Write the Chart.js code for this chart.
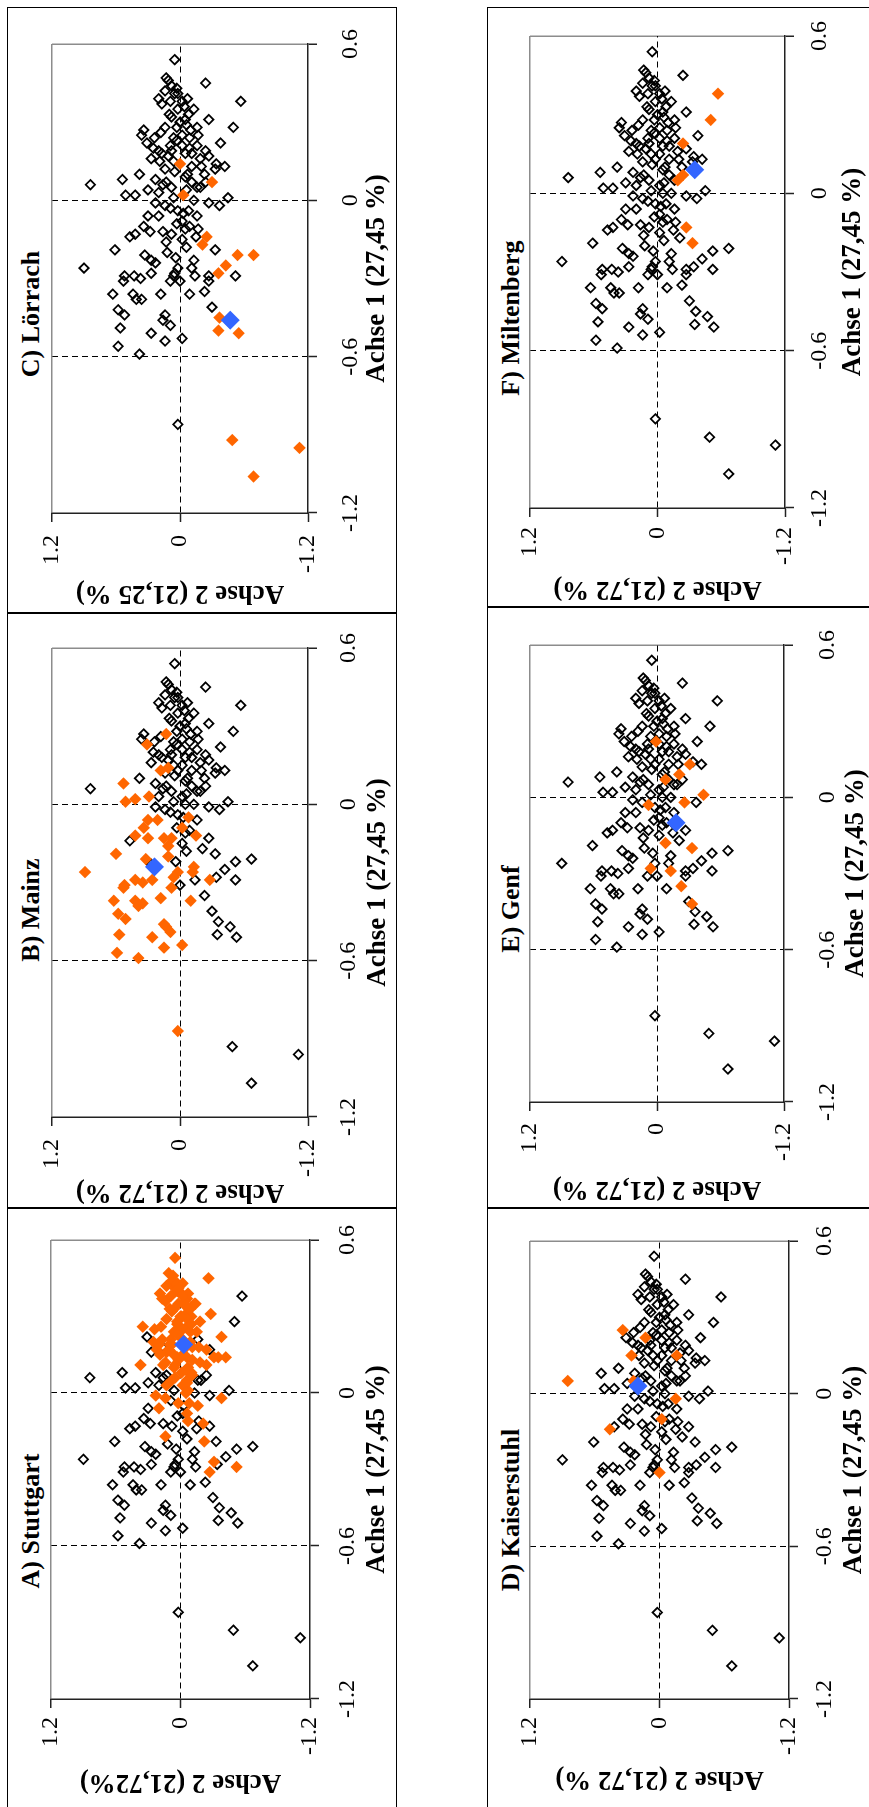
<!DOCTYPE html>
<html lang="de">
<head>
<meta charset="utf-8">
<title>Achse 1 / Achse 2 nach Regionen</title>
<script src="https://cdn.jsdelivr.net/npm/chart.js@4.4.1/dist/chart.umd.min.js"></script>
<style>
    html, body { margin: 0; padding: 0; background: #fff; overflow: hidden; }
    body { width: 869px; height: 1807px; position: relative; }
    /* the figure is built in landscape and turned a quarter to the left */
    #figure { position: absolute; left: 0; top: 0; width: 1807px; height: 869px;
              transform-origin: 0 0; transform: translate(0, 1807px) rotate(-90deg); }
    .frame { position: absolute; border: 1.5px solid #000; box-sizing: border-box; }
    .panel-title { position: absolute; width: 400px; height: 26px; line-height: 26px; text-align: center;
                   font: bold 26px "Liberation Serif", "Times New Roman", serif; color: #000; white-space: nowrap; }
    canvas { position: absolute; }
</style>
</head>
<body>
<div id="figure"></div>
<script>
// axis ticks and texts
const achse1Ticks = [-1.2, -0.6, 0, 0.6];
const achse2Ticks = [-1.2, 0, 1.2];
const achse1Title = "Achse 1 (27,45 %)";
const achse2Titles = ["Achse 2 (21,72%)", "Achse 2 (21,72 %)", "Achse 2 (21,25 %)",
                      "Achse 2 (21,72 %)", "Achse 2 (21,72 %)", "Achse 2 (21,72 %)"];
const panelTitles = ["A) Stuttgart", "B) Mainz", "C) Lörrach", "D) Kaiserstuhl", "E) Genf", "F) Miltenberg"];

// [Achse 1, Achse 2] of all points outside Miltenberg
const otherPoints = [
    [0.54,0.05],[0.47,0.13],[0.46,0.11],[0.44,0.08],[0.45,-0.24],[0.41,0.05],[0.42,0.14],[0.41,0.02],
    [0.39,0.20],[0.37,0.17],[0.38,0.09],[0.38,-0.02],[0.35,0.02],[0.35,-0.13],[0.33,-0.08],[0.31,-0.05],
    [0.32,0.08],[0.31,-0.27],[0.28,0.14],[0.28,0.03],[0.29,-0.06],[0.28,-0.16],[0.25,-0.17],[0.27,0.34],
    [0.25,0.36],[0.24,0.24],[0.22,0.31],[0.24,0.06],[0.25,-0.02],[0.24,-0.09],[0.21,-0.02],[0.21,0.09],
    [0.22,-0.38],[0.21,-0.16],[0.20,0.25],[0.18,0.17],[0.19,0.08],[0.18,-0.05],[0.18,-0.11],[0.16,0.27],
    [0.15,0.19],[0.15,0.06],[0.15,-0.02],[0.16,-0.19],[0.17,-0.27],[0.12,0.14],[0.13,0.02],[0.13,-0.11],
    [0.13,-0.20],[0.14,-0.34],[0.13,-0.42],[0.10,0.38],[0.08,0.54],[0.06,0.84],[0.08,0.23],[0.07,0.13],
    [0.09,-0.05],[0.07,-0.11],[0.10,-0.23],[0.12,-0.33],[0.04,0.30],[0.03,0.20],[0.05,0.08],[0.03,-0.02],
    [0.04,-0.06],[0.05,-0.16],[0.02,0.51],[0.02,0.42],[-0.01,-0.27],[0.01,-0.45],[-0.02,-0.37],[-0.01,0.23],
    [-0.02,0.14],[0.00,-0.05],[0.00,-0.13],[-0.03,0.09],[-0.04,0.02],[-0.04,-0.08],[-0.06,-0.16],[-0.06,0.30],
    [-0.06,0.20],[-0.10,0.34],[-0.13,0.42],[-0.14,0.47],[-0.12,0.28],[-0.08,-0.02],[-0.10,-0.09],[-0.11,-0.17],
    [-0.11,-0.05],[-0.12,0.16],[-0.13,0.08],[-0.16,0.13],[-0.20,0.12],[-0.18,-0.06],[-0.17,-0.21],[-0.19,0.61],
    [-0.21,0.33],[-0.23,0.27],[-0.24,0.23],[-0.26,0.90],[-0.26,0.02],[-0.28,0.05],[-0.29,0.06],[-0.31,0.09],
    [-0.23,-0.13],[-0.26,-0.11],[-0.29,-0.14],[-0.22,-0.52],[-0.21,-0.67],[-0.29,0.52],[-0.31,0.53],[-0.29,0.43],
    [-0.30,0.37],[-0.28,0.27],[-0.25,-0.42],[-0.28,-0.34],[-0.29,-0.27],[-0.31,-0.27],[-0.29,-0.52],[-0.36,0.63],
    [-0.36,0.44],[-0.38,0.41],[-0.38,0.36],[-0.36,0.18],[-0.31,0.00],[-0.36,-0.09],[-0.35,-0.23],[-0.42,0.58],
    [-0.44,0.52],[-0.41,-0.30],[-0.45,-0.36],[-0.44,0.14],[-0.46,0.16],[-0.48,0.09],[-0.51,0.27],[-0.54,0.14],
    [-0.53,-0.02],[-0.49,0.56],[-0.47,-0.47],[-0.50,-0.35],[-0.51,-0.53],[-0.56,0.58],[-0.59,0.38],[-0.86,0.02],
    [-0.93,-0.49],[-0.96,-1.11],[-1.07,-0.67],[0.33,0.10],[0.30,0.00],[0.27,-0.10],[0.23,0.03],[0.20,-0.09],
    [0.17,0.11],[0.11,0.05],[0.10,-0.07],[0.06,0.16],[0.01,0.06],[-0.05,-0.03],[-0.09,0.03],[-0.15,-0.02],
    [-0.22,0.04],[-0.14,-0.15],[0.36,-0.04],[0.43,0.03],[0.39,-0.07],[0.26,0.18],[0.19,0.20]
];

const stuttgart = [
    [0.53,0.05],[0.45,-0.26],[0.47,0.11],[0.44,0.08],[0.42,0.13],[0.40,0.03],[0.39,0.19],[0.39,-0.01],
    [0.37,-0.06],[0.36,0.14],[0.35,-0.14],[0.33,-0.09],[0.33,0.06],[0.31,-0.28],[0.30,-0.01],[0.30,-0.10],
    [0.28,-0.18],[0.29,0.13],[0.27,0.03],[0.26,-0.06],[0.26,0.35],[0.25,0.24],[0.24,-0.15],[0.22,-0.38],
    [0.21,0.17],[0.20,0.25],[0.19,0.10],[0.18,-0.17],[0.17,0.22],[0.16,0.13],[0.17,-0.24],[0.14,-0.31],
    [0.14,-0.35],[0.14,-0.42],[0.14,0.03],[0.14,-0.06],[0.12,-0.18],[0.11,0.37],[0.11,0.16],[0.10,0.06],
    [0.08,-0.01],[0.08,-0.10],[0.11,-0.24],[0.06,0.05],[0.05,-0.06],[0.03,0.13],[0.01,-0.07],[-0.02,-0.38],
    [-0.01,0.23],[-0.06,0.20],[-0.04,0.02],[-0.05,-0.16],[-0.08,-0.06],[-0.11,-0.07],[-0.12,-0.21],[-0.17,0.14],
    [-0.19,-0.22],[-0.27,-0.31],[-0.29,-0.52],[-0.31,-0.27],
    [0.46,0.07],[0.43,-0.02],[0.41,0.05],[0.38,0.09],[0.37,0.17],[0.35,0.02],[0.34,-0.05],[0.32,0.08],
    [0.31,-0.05],[0.29,-0.06],[0.28,0.03],[0.25,-0.02],[0.24,0.06],[0.24,-0.09],[0.21,-0.02],[0.21,0.09],
    [0.19,0.08],[0.18,-0.05],[0.18,-0.11],[0.15,0.19],[0.15,0.06],[0.15,-0.02],[0.13,0.02],[0.13,-0.11],
    [0.12,0.14],[0.09,-0.05],[0.07,-0.11],[0.05,0.08],[0.04,-0.06],[0.03,-0.02],[0.00,-0.05],[-0.04,-0.08],
    [-0.02,0.14],[0.33,0.10],[0.30,0.00],[0.27,-0.10],[0.23,0.03],[0.20,-0.09],[0.17,0.11],[0.11,0.05],
    [0.10,-0.07],[0.36,-0.04],[0.43,0.03],[0.39,-0.07],[0.26,0.18],[0.19,0.20],[0.41,0.02],[0.38,-0.02],
    [0.35,-0.13],[0.33,-0.08]
];
const mainz = [
    [0.27,0.13],[0.23,0.31],[0.13,0.18],[0.14,0.11],[0.08,0.53],[0.03,0.29],[0.01,0.51],[0.02,0.42],
    [-0.06,0.21],[-0.06,0.30],[-0.05,-0.08],[-0.09,0.34],[-0.09,-0.02],[-0.12,0.42],[-0.13,0.30],[-0.13,0.15],
    [-0.13,0.08],[-0.12,-0.15],[-0.16,0.11],[-0.19,0.60],[-0.20,0.11],[-0.21,0.32],[-0.26,0.89],[-0.24,-0.13],
    [-0.26,-0.12],[-0.26,0.02],[-0.28,0.06],[-0.29,-0.28],[-0.29,0.26],[-0.31,0.52],[-0.29,0.42],[-0.30,0.35],
    [-0.32,0.53],[-0.32,0.08],[-0.37,0.62],[-0.37,0.42],[-0.39,0.39],[-0.38,0.35],[-0.36,0.18],[-0.37,-0.10],
    [-0.42,0.58],[-0.44,0.51],[-0.46,0.15],[-0.47,0.13],[-0.49,0.09],[-0.50,0.57],[-0.51,0.26],[-0.54,-0.02],
    [-0.55,0.15],[-0.57,0.59],[-0.59,0.39],[-0.87,0.02]
];
const loerrach = [
    [0.14,0.00],[0.07,-0.30],[0.02,-0.03],[-0.14,-0.25],[-0.17,-0.21],[-0.21,-0.54],[-0.21,-0.69],[-0.25,-0.43],
    [-0.28,-0.36],[-0.45,-0.37],[-0.50,-0.36],[-0.51,-0.55],[-0.92,-0.49],[-0.95,-1.12],[-1.06,-0.69]
];
const kaiserstuhl = [
    [0.25,0.34],[0.22,0.13],[0.15,0.26],[0.15,-0.16],[0.05,0.85],[0.05,0.24],[-0.02,-0.15],[-0.10,-0.02],
    [-0.14,0.46],[-0.31,0.00]
];
const genf = [
    [0.22,0.01],[0.13,-0.31],[0.09,-0.21],[0.07,-0.08],[0.01,-0.44],[-0.03,0.08],[-0.02,-0.26],[-0.18,-0.08],
    [-0.20,-0.33],[-0.28,0.06],[-0.29,-0.13],[-0.35,-0.23],[-0.42,-0.33]
];
const miltenberg = [
    [0.38,-0.57],[0.28,-0.50],[0.19,-0.24],[0.07,-0.24],[0.05,-0.19],[-0.13,-0.27],[-0.19,-0.33]
];
// region means (blue), order A..F
const centroids = [[0.19,-0.03], [-0.24,0.24], [-0.46,-0.47], [0.03,0.20], [-0.10,-0.18], [0.09,-0.35]];

const regionPoints = [stuttgart, mainz, loerrach, kaiserstuhl, genf, miltenberg];
const allPoints = otherPoints.concat(miltenberg);

// panel geometry in the landscape figure (px): frame [x1,y1,x2,y2], plot [left,right,top,bottom]
const layout = [
    { frame: [-10, 7, 599, 397],  plot: [108, 569, 51, 310],    titleX: 286,  xTick: 38, xTitle: 67, yTick: 18, yTitleX: 25.5 },
    { frame: [599, 7, 1194, 397], plot: [690, 1171, 52, 308],   titleX: 897,  xTick: 41, xTitle: 70, yTick: 22, yTitleX: 615 },
    { frame: [1194, 7, 1800, 397], plot: [1294, 1776, 52, 308], titleX: 1493, xTick: 43, xTitle: 69, yTick: 22, yTitleX: 1214.5 },
    { frame: [-10, 487, 599, 880], plot: [108, 566, 530, 789],  titleX: 297,  xTick: 36, xTitle: 65, yTick: 18, yTitleX: 28.5 },
    { frame: [599, 487, 1200, 880], plot: [705, 1169, 530, 784], titleX: 898, xTick: 44, xTitle: 72, yTick: 21, yTitleX: 618.5 },
    { frame: [1200, 487, 1800, 880], plot: [1299, 1775, 530, 785], titleX: 1489, xTick: 35, xTitle: 68, yTick: 19, yTitleX: 1218.5 }
];

const fontFamily = '"Liberation Serif", "Times New Roman", serif';
const same = (a, b) => Math.abs(a - b) < 1e-6;
const toXY = arr => arr.map(p => ({ x: p[0], y: p[1] }));
const fmt = v => (same(v, 0) ? "0" : String(v));

const figure = document.getElementById("figure");

layout.forEach((g, i) => {
    const frame = document.createElement("div");
    frame.className = "frame";
    frame.style.left = g.frame[0] + "px";
    frame.style.top = g.frame[1] + "px";
    frame.style.width = (g.frame[2] - g.frame[0]) + "px";
    frame.style.height = (g.frame[3] - g.frame[1]) + "px";
    figure.appendChild(frame);

    const title = document.createElement("div");
    title.className = "panel-title";
    title.innerText = panelTitles[i];
    title.style.left = (g.titleX - 200) + "px";
    title.style.top = (g.frame[1] + 9) + "px";
    figure.appendChild(title);

    const cx = Math.max(g.frame[0], 0);
    const cy = g.frame[1];
    const cw = g.frame[2] - cx;
    const ch = g.frame[3] - cy;
    const canvas = document.createElement("canvas");
    canvas.width = cw;
    canvas.height = ch;
    canvas.style.left = cx + "px";
    canvas.style.top = cy + "px";
    canvas.style.width = cw + "px";
    canvas.style.height = ch + "px";
    figure.appendChild(canvas);

    const left = g.plot[0] - cx, right = g.plot[1] - cx, top = g.plot[2] - cy, bottom = g.plot[3] - cy;
    const padLeft = g.yTitleX - cx - 13.5;
    const yWidth = left - padLeft;
    const xHeight = g.xTitle + 13.5;
    const padBottom = ch - bottom - xHeight;

    const own = regionPoints[i];
    const rest = allPoints.filter(p => !own.some(q => Math.hypot(p[0] - q[0], p[1] - q[1]) < 0.03));

    new Chart(canvas, {
        type: "scatter",
        data: {
            datasets: [
                { label: "Mittelwert", data: toXY([centroids[i]]), pointStyle: "rectRot", pointRadius: 9.5,
                  backgroundColor: "#3366ff", borderWidth: 0 },
                { label: panelTitles[i], data: toXY(own), pointStyle: "rectRot", pointRadius: 6.2,
                  backgroundColor: "#ff6600", borderWidth: 0 },
                { label: "übrige", data: toXY(rest), pointStyle: "rectRot", pointRadius: 4.7,
                  backgroundColor: "rgba(0,0,0,0)", borderColor: "#000", borderWidth: 1.8 }
            ]
        },
        options: {
            responsive: false,
            animation: false,
            devicePixelRatio: 1,
            layout: { padding: { left: padLeft, right: cw - right, top: top, bottom: padBottom } },
            plugins: { legend: { display: false }, tooltip: { enabled: false } },
            scales: {
                x: {
                    type: "linear", min: -1.2, max: 0.6,
                    afterBuildTicks: s => { s.ticks = achse1Ticks.map(v => ({ value: v })); },
                    afterFit: s => { s.height = xHeight; },
                    grid: {
                        color: c => {
                            if (!c.tick) return "rgba(0,0,0,0)";
                            if (same(c.tick.value, 0.6)) return "#8c8c8c";
                            if (same(c.tick.value, 0) || same(c.tick.value, -0.6)) return "#000";
                            return "rgba(0,0,0,0)";
                        },
                        lineWidth: c => (c.tick && same(c.tick.value, 0.6) ? 1.5 : 1),
                        tickLength: 9, tickColor: "#222", tickWidth: 1.5
                    },
                    border: {
                        color: "#222", width: 1.5,
                        dash: c => (c.tick && (same(c.tick.value, 0) || same(c.tick.value, -0.6)) ? [6, 4] : [])
                    },
                    ticks: {
                        autoSkip: false, maxRotation: 0, minRotation: 0, padding: g.xTick - 21,
                        color: "#000", font: { family: fontFamily, size: 24, lineHeight: 1 },
                        callback: v => fmt(v)
                    },
                    title: {
                        display: true, text: achse1Title, color: "#000", padding: 0,
                        font: { family: fontFamily, size: 27, weight: "bold", lineHeight: 1 }
                    }
                },
                y: {
                    type: "linear", min: -1.2, max: 1.2,
                    afterBuildTicks: s => { s.ticks = achse2Ticks.map(v => ({ value: v })); },
                    afterFit: s => { s.width = yWidth; },
                    grid: {
                        color: c => {
                            if (!c.tick) return "rgba(0,0,0,0)";
                            if (same(c.tick.value, 1.2)) return "#8c8c8c";
                            if (same(c.tick.value, 0)) return "#000";
                            return "rgba(0,0,0,0)";
                        },
                        lineWidth: c => (c.tick && same(c.tick.value, 1.2) ? 1.5 : 1),
                        tickLength: 9, tickColor: "#222", tickWidth: 1.5
                    },
                    border: {
                        color: "#222", width: 1.5,
                        dash: c => (c.tick && same(c.tick.value, 0) ? [6, 4] : [])
                    },
                    ticks: {
                        padding: g.yTick - 9, color: "#000",
                        font: { family: fontFamily, size: 24, lineHeight: 1 },
                        callback: v => fmt(v)
                    },
                    title: {
                        display: true, text: achse2Titles[i], color: "#000", padding: 0,
                        font: { family: fontFamily, size: 27, weight: "bold", lineHeight: 1 }
                    }
                }
            }
        }
    });
});
</script>
</body>
</html>
